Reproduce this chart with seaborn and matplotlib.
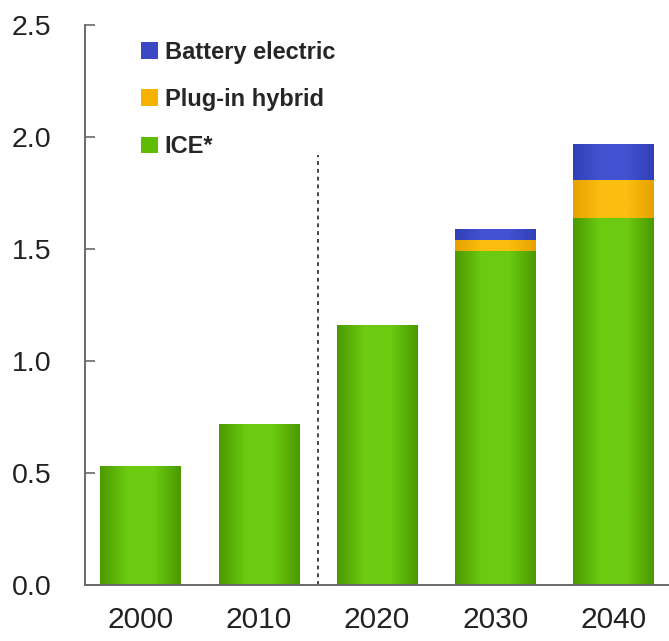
import matplotlib
matplotlib.use("Agg")
import matplotlib.pyplot as plt
from matplotlib.colors import LinearSegmentedColormap
from matplotlib.patches import Patch
import numpy as np
import pandas as pd
import seaborn as sns

# Vehicle fleet (billions) by drivetrain
years = ["2000", "2010", "2020", "2030", "2040"]
ice = [0.53, 0.72, 1.16, 1.49, 1.64]
plug_in_hybrid = [0.0, 0.0, 0.0, 0.05, 0.17]
battery_electric = [0.0, 0.0, 0.0, 0.05, 0.16]
series_names = ["Battery electric", "Plug-in hybrid", "ICE*"]
y_ticks = [0.0, 0.5, 1.0, 1.5, 2.0, 2.5]

green = "#5fbb04"
orange = "#f6b200"
blue = "#3a48c6"
shades = {
    green: ("#4c9a00", "#6ccb10"),
    orange: ("#e8a200", "#fbbd10"),
    blue: ("#3240b8", "#4252d0"),
}

sns.set_theme(style="white")
plt.rcParams["font.family"] = ["Liberation Sans", "DejaVu Sans"]

df = pd.DataFrame({
    "year": years,
    "ice": ice,
    "phev": np.array(ice) + np.array(plug_in_hybrid),
    "bev": np.array(ice) + np.array(plug_in_hybrid) + np.array(battery_electric),
})

fig = plt.figure(figsize=(6.69, 6.41), dpi=100)
ax = fig.add_axes([0.127, 0.087, 0.873, 0.874])

# stacked layers: draw cumulative totals first, lower segments on top
for col, color in [("bev", blue), ("phev", orange), ("ice", green)]:
    sns.barplot(data=df, x="year", y=col, order=years, color=color,
                width=0.68, saturation=1, ax=ax, linewidth=0)

# soft horizontal shading on each bar
for patch in list(ax.patches):
    h = patch.get_height()
    if h <= 0:
        continue
    fc = np.array(matplotlib.colors.to_rgb(patch.get_facecolor()))
    key = min(shades, key=lambda k: np.sum((np.array(matplotlib.colors.to_rgb(k)) - fc) ** 2))
    edge, mid = shades[key]
    cmap = LinearSegmentedColormap.from_list("shade", [edge, mid, mid, edge])
    x0, y0 = patch.get_x(), patch.get_y()
    w = patch.get_width()
    grad = np.linspace(0, 1, 64).reshape(1, -1)
    im = ax.imshow(grad, cmap=cmap, aspect="auto",
                   extent=[x0, x0 + w, y0, y0 + h], zorder=patch.get_zorder() + 0.01)
    im.set_clip_path(patch)

ax.vlines(1.5, 0, 1.92, colors="#444444", linestyles=(0, (2, 2)), linewidth=1.4)

ax.set_xlim(-0.47, 4.47)
ax.set_ylim(0, 2.5)
ax.set_yticks(y_ticks)
ax.set_yticklabels([f"{v:.1f}" for v in y_ticks])
ax.set_xlabel("")
ax.set_ylabel("")

for side in ["top", "right"]:
    ax.spines[side].set_visible(False)
for side in ["left", "bottom"]:
    ax.spines[side].set_color("#6a6a6a")
    ax.spines[side].set_linewidth(1.4)

ax.tick_params(axis="y", direction="in", length=7, width=1.2, color="#6a6a6a",
               labelsize=20.5, pad=24, left=True, labelcolor="#222222")
ax.tick_params(axis="x", length=0, labelsize=21.5, pad=15, labelcolor="#222222")

handles = [Patch(facecolor=c, edgecolor="none") for c in (blue, orange, green)]
ax.legend(handles, series_names, loc="upper left", bbox_to_anchor=(0.06, 1.01),
          frameon=False, handlelength=0.7, handleheight=0.7,
          handletextpad=0.3, labelspacing=1.03, prop={"size": 17, "weight": "bold"})

fig.savefig("out.png", dpi=100)
